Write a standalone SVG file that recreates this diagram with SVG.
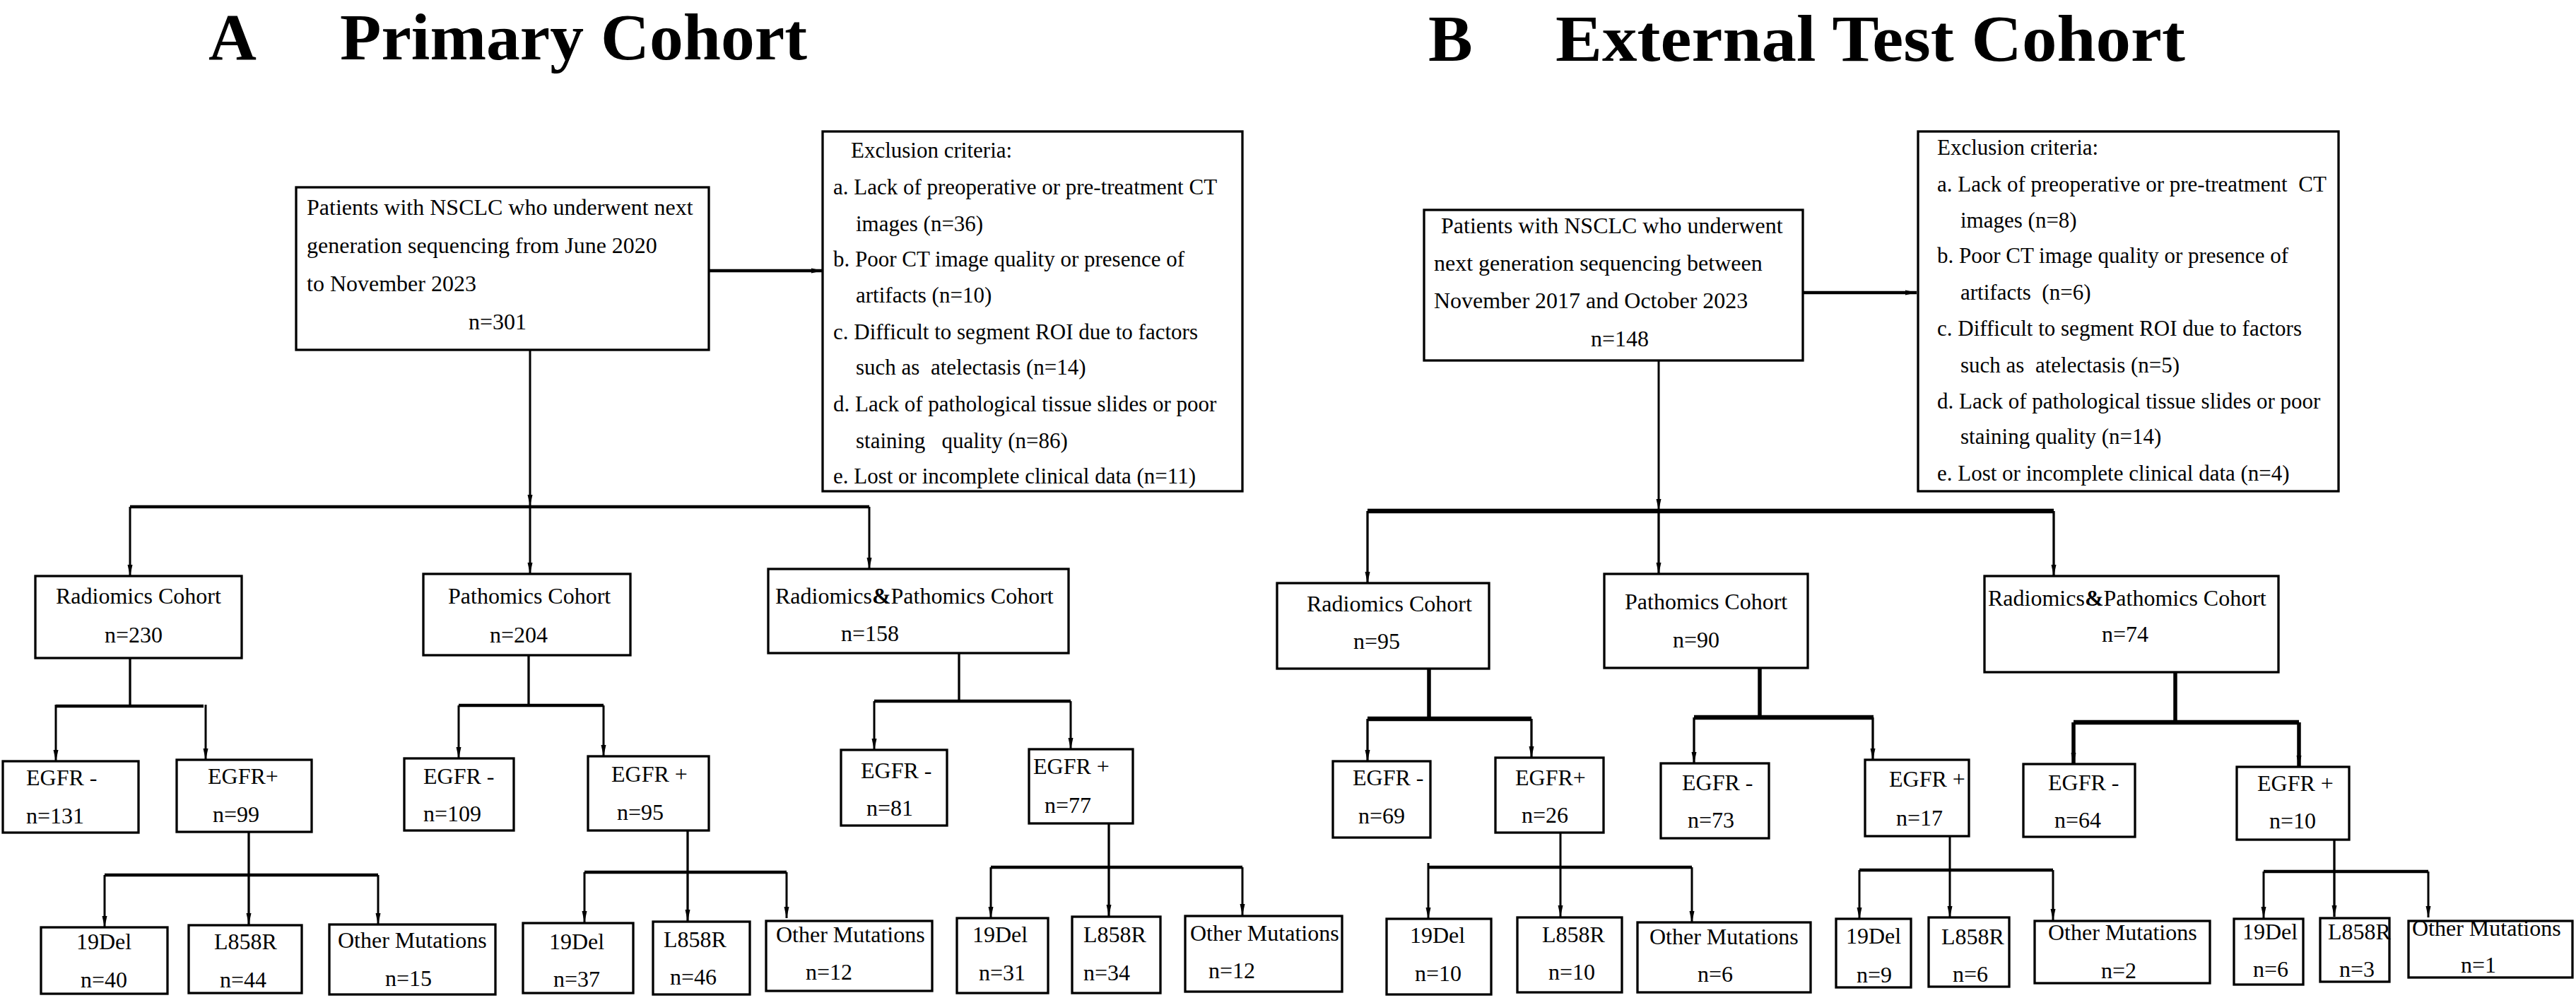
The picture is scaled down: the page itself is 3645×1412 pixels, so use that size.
<svg xmlns="http://www.w3.org/2000/svg" width="3645" height="1412" viewBox="0 0 3645 1412">
<style>
.bg{fill:#fff}
.box{fill:#fff;stroke:#000;stroke-width:3.3}
text{font-family:"Liberation Serif","Times New Roman",serif;fill:#000}
.t{font-size:32px}
.ex{font-size:31px}
.title{font-size:94px;font-weight:bold}
.ln{stroke:#000;stroke-width:3;fill:none}
.bar{stroke:#000;stroke-width:4.5;fill:none}
.barB{stroke:#000;stroke-width:6.5;fill:none}
.stem{stroke:#000;stroke-width:3.3;fill:none}
.stemB{stroke:#000;stroke-width:5.5;fill:none}
.ha{stroke:#000;stroke-width:4.5;fill:none}
.amp{font-weight:bold}
</style>
<defs>
<marker id="ah" markerUnits="userSpaceOnUse" markerWidth="18" markerHeight="10" refX="16" refY="5" orient="auto">
<path d="M0,1.5 L16,5 L0,8.5 z" fill="#000"/>
</marker>
</defs>
<rect class="bg" x="0" y="0" width="3645" height="1412"/>

<g id="titles">
<text class="title" y="84"><tspan x="295">A</tspan></text>
<text class="title" y="84" x="481" textLength="661" lengthAdjust="spacingAndGlyphs">Primary Cohort</text>
<text class="title" y="86"><tspan x="2021">B</tspan></text>
<text class="title" y="86" x="2201" textLength="891" lengthAdjust="spacingAndGlyphs">External Test Cohort</text>
</g>

<g id="connectors">
<!-- A -->
<line class="ha" x1="1003" y1="383" x2="1164" y2="383" marker-end="url(#ah)"/>
<line class="ln" x1="750" y1="495" x2="750" y2="716" marker-end="url(#ah)"/>
<line class="bar" x1="184" y1="717" x2="1230" y2="717"/>
<line class="ln" x1="184" y1="717" x2="184" y2="815" marker-end="url(#ah)"/>
<line class="ln" x1="750" y1="717" x2="750" y2="812" marker-end="url(#ah)"/>
<line class="ln" x1="1230" y1="717" x2="1230" y2="805" marker-end="url(#ah)"/>

<line class="stem" x1="184" y1="931" x2="184" y2="999"/>
<line class="bar" x1="79" y1="999" x2="288" y2="999"/>
<line class="ln" x1="79" y1="997" x2="79" y2="1077" marker-end="url(#ah)"/>
<line class="ln" x1="291" y1="997" x2="291" y2="1075" marker-end="url(#ah)"/>
<line class="stem" x1="352" y1="1177" x2="352" y2="1308" marker-end="url(#ah)"/>
<line class="bar" x1="148" y1="1238" x2="535" y2="1238"/>
<line class="ln" x1="148" y1="1238" x2="148" y2="1312" marker-end="url(#ah)"/>
<line class="ln" x1="535" y1="1238" x2="535" y2="1308" marker-end="url(#ah)"/>

<line class="stem" x1="748" y1="927" x2="748" y2="998"/>
<line class="bar" x1="649" y1="998" x2="854" y2="998"/>
<line class="ln" x1="649" y1="998" x2="649" y2="1073" marker-end="url(#ah)"/>
<line class="ln" x1="854" y1="998" x2="854" y2="1070" marker-end="url(#ah)"/>
<line class="stem" x1="973" y1="1175" x2="973" y2="1303" marker-end="url(#ah)"/>
<line class="bar" x1="827" y1="1234" x2="1113" y2="1234"/>
<line class="ln" x1="827" y1="1234" x2="827" y2="1305" marker-end="url(#ah)"/>
<line class="ln" x1="1113" y1="1234" x2="1113" y2="1299" marker-end="url(#ah)"/>

<line class="stem" x1="1357" y1="924" x2="1357" y2="992"/>
<line class="bar" x1="1237" y1="992" x2="1515" y2="992"/>
<line class="ln" x1="1237" y1="992" x2="1237" y2="1061" marker-end="url(#ah)"/>
<line class="ln" x1="1515" y1="992" x2="1515" y2="1060" marker-end="url(#ah)"/>
<line class="stem" x1="1569" y1="1165" x2="1569" y2="1296" marker-end="url(#ah)"/>
<line class="bar" x1="1402" y1="1227" x2="1758" y2="1227"/>
<line class="ln" x1="1402" y1="1227" x2="1402" y2="1299" marker-end="url(#ah)"/>
<line class="ln" x1="1758" y1="1227" x2="1758" y2="1295" marker-end="url(#ah)"/>

<!-- B -->
<line class="ha" x1="2551" y1="414" x2="2712" y2="414" marker-end="url(#ah)"/>
<line class="ln" x1="2347" y1="510" x2="2347" y2="722" marker-end="url(#ah)"/>
<line class="barB" x1="1935" y1="723" x2="2906" y2="723"/>
<line class="stem" x1="1935" y1="723" x2="1935" y2="825" marker-end="url(#ah)"/>
<line class="stem" x1="2347" y1="723" x2="2347" y2="812" marker-end="url(#ah)"/>
<line class="stem" x1="2906" y1="723" x2="2906" y2="815" marker-end="url(#ah)"/>

<line class="stemB" x1="2022" y1="946" x2="2022" y2="1017"/>
<line class="barB" x1="1935" y1="1017" x2="2167" y2="1017"/>
<line class="stem" x1="1935" y1="1017" x2="1935" y2="1077" marker-end="url(#ah)"/>
<line class="stem" x1="2167" y1="1017" x2="2167" y2="1072" marker-end="url(#ah)"/>
<line class="ln" x1="2208" y1="1178" x2="2208" y2="1297" marker-end="url(#ah)"/>
<line class="bar" x1="2021" y1="1227" x2="2394" y2="1227"/>
<line class="ln" x1="2021" y1="1221" x2="2021" y2="1300" marker-end="url(#ah)"/>
<line class="ln" x1="2394" y1="1227" x2="2394" y2="1305" marker-end="url(#ah)"/>

<line class="stemB" x1="2490" y1="945" x2="2490" y2="1017"/>
<line class="barB" x1="2397" y1="1015" x2="2651" y2="1015"/>
<line class="stem" x1="2397" y1="1015" x2="2397" y2="1080" marker-end="url(#ah)"/>
<line class="stem" x1="2650" y1="1015" x2="2650" y2="1075" marker-end="url(#ah)"/>
<line class="ln" x1="2759" y1="1183" x2="2759" y2="1298" marker-end="url(#ah)"/>
<line class="bar" x1="2631" y1="1231" x2="2905" y2="1231"/>
<line class="ln" x1="2631" y1="1231" x2="2631" y2="1300" marker-end="url(#ah)"/>
<line class="ln" x1="2905" y1="1231" x2="2905" y2="1302" marker-end="url(#ah)"/>

<line class="stemB" x1="3078" y1="951" x2="3078" y2="1022"/>
<line class="barB" x1="2934" y1="1022" x2="3253" y2="1022"/>
<line class="stemB" x1="2934" y1="1022" x2="2934" y2="1081" marker-end="url(#ah)"/>
<line class="stemB" x1="3253" y1="1022" x2="3253" y2="1085" marker-end="url(#ah)"/>
<line class="stem" x1="3303" y1="1188" x2="3303" y2="1297" marker-end="url(#ah)"/>
<line class="bar" x1="3203" y1="1233" x2="3436" y2="1233"/>
<line class="ln" x1="3203" y1="1233" x2="3203" y2="1299" marker-end="url(#ah)"/>
<line class="ln" x1="3436" y1="1233" x2="3436" y2="1298" marker-end="url(#ah)"/>
</g>

<!-- Panel A nodes -->
<g id="A-main">
<rect class="box" x="419" y="265" width="584" height="230"/>
<text class="t" x="434" y="304">Patients with NSCLC who underwent next</text>
<text class="t" x="434" y="358">generation sequencing from June 2020</text>
<text class="t" x="434" y="412">to November 2023</text>
<text class="t" x="663" y="466">n=301</text>
</g>
<g id="A-exclusion">
<rect class="box" x="1164" y="186" width="594" height="509"/>
<text class="ex" x="1204" y="223">Exclusion criteria:</text>
<text class="ex" x="1179" y="275">a. Lack of preoperative or pre-treatment CT</text>
<text class="ex" x="1211" y="327">images (n=36)</text>
<text class="ex" x="1179" y="377">b. Poor CT image quality or presence of</text>
<text class="ex" x="1211" y="428">artifacts (n=10)</text>
<text class="ex" x="1179" y="480">c. Difficult to segment ROI due to factors</text>
<text class="ex" x="1211" y="530" xml:space="preserve" style="white-space:pre">such as  atelectasis (n=14)</text>
<text class="ex" x="1179" y="582">d. Lack of pathological tissue slides or poor</text>
<text class="ex" x="1211" y="634" xml:space="preserve" style="white-space:pre">staining   quality (n=86)</text>
<text class="ex" x="1179" y="684">e. Lost or incomplete clinical data (n=11)</text>
</g>
<g id="A-radiomics">
<rect class="box" x="50" y="815" width="292" height="116"/>
<text class="t" x="79" y="854">Radiomics Cohort</text>
<text class="t" x="148" y="909">n=230</text>
</g>
<g id="A-pathomics">
<rect class="box" x="599" y="812" width="293" height="115"/>
<text class="t" x="634" y="854">Pathomics Cohort</text>
<text class="t" x="693" y="909">n=204</text>
</g>
<g id="A-radpath">
<rect class="box" x="1087" y="805" width="425" height="119"/>
<text class="t" x="1097" y="854">Radiomics<tspan class="amp">&amp;</tspan>Pathomics Cohort</text>
<text class="t" x="1190" y="907">n=158</text>
</g>
<g id="A-r-neg">
<rect class="box" x="4" y="1077" width="192" height="101"/>
<text class="t" x="37" y="1111">EGFR -</text>
<text class="t" x="37" y="1165">n=131</text>
</g>
<g id="A-r-pos">
<rect class="box" x="250" y="1075" width="191" height="102"/>
<text class="t" x="294" y="1109">EGFR+</text>
<text class="t" x="301" y="1163">n=99</text>
</g>
<g id="A-r-19del">
<rect class="box" x="58" y="1312" width="179" height="94"/>
<text class="t" x="108" y="1343">19Del</text>
<text class="t" x="114" y="1397">n=40</text>
</g>
<g id="A-r-l858r">
<rect class="box" x="267" y="1309" width="160" height="96"/>
<text class="t" x="303" y="1343">L858R</text>
<text class="t" x="311" y="1397">n=44</text>
</g>
<g id="A-r-other">
<rect class="box" x="466" y="1308" width="235" height="99"/>
<text class="t" x="478" y="1341">Other Mutations</text>
<text class="t" x="545" y="1395">n=15</text>
</g>
<g id="A-p-neg">
<rect class="box" x="572" y="1073" width="155" height="102"/>
<text class="t" x="599" y="1109">EGFR -</text>
<text class="t" x="599" y="1162">n=109</text>
</g>
<g id="A-p-pos">
<rect class="box" x="832" y="1070" width="171" height="105"/>
<text class="t" x="865" y="1106">EGFR +</text>
<text class="t" x="873" y="1160">n=95</text>
</g>
<g id="A-p-19del">
<rect class="box" x="740" y="1306" width="156" height="99"/>
<text class="t" x="777" y="1343">19Del</text>
<text class="t" x="783" y="1396">n=37</text>
</g>
<g id="A-p-l858r">
<rect class="box" x="924" y="1304" width="137" height="103"/>
<text class="t" x="939" y="1340">L858R</text>
<text class="t" x="948" y="1393">n=46</text>
</g>
<g id="A-p-other">
<rect class="box" x="1084" y="1303" width="235" height="99"/>
<text class="t" x="1098" y="1333">Other Mutations</text>
<text class="t" x="1140" y="1386">n=12</text>
</g>
<g id="A-rp-neg">
<rect class="box" x="1190" y="1061" width="150" height="107"/>
<text class="t" x="1218" y="1101">EGFR -</text>
<text class="t" x="1226" y="1154">n=81</text>
</g>
<g id="A-rp-pos">
<rect class="box" x="1456" y="1060" width="147" height="105"/>
<text class="t" x="1462" y="1095">EGFR +</text>
<text class="t" x="1478" y="1150">n=77</text>
</g>
<g id="A-rp-19del">
<rect class="box" x="1354" y="1299" width="129" height="106"/>
<text class="t" x="1376" y="1333">19Del</text>
<text class="t" x="1385" y="1387">n=31</text>
</g>
<g id="A-rp-l858r">
<rect class="box" x="1517" y="1297" width="125" height="108"/>
<text class="t" x="1533" y="1333">L858R</text>
<text class="t" x="1533" y="1387">n=34</text>
</g>
<g id="A-rp-other">
<rect class="box" x="1677" y="1296" width="222" height="107"/>
<text class="t" x="1684" y="1331">Other Mutations</text>
<text class="t" x="1710" y="1384">n=12</text>
</g>

<!-- Panel B nodes -->
<g id="B-main">
<rect class="box" x="2015" y="297" width="536" height="213"/>
<text class="t" x="2039" y="330">Patients with NSCLC who underwent</text>
<text class="t" x="2029" y="383">next generation sequencing between</text>
<text class="t" x="2029" y="436">November 2017 and October 2023</text>
<text class="t" x="2251" y="490">n=148</text>
</g>
<g id="B-exclusion">
<rect class="box" x="2714" y="186" width="595" height="509"/>
<text class="ex" x="2741" y="219">Exclusion criteria:</text>
<text class="ex" x="2741" y="271" xml:space="preserve" style="white-space:pre">a. Lack of preoperative or pre-treatment  CT</text>
<text class="ex" x="2774" y="322">images (n=8)</text>
<text class="ex" x="2741" y="372">b. Poor CT image quality or presence of</text>
<text class="ex" x="2774" y="424" xml:space="preserve" style="white-space:pre">artifacts  (n=6)</text>
<text class="ex" x="2741" y="475">c. Difficult to segment ROI due to factors</text>
<text class="ex" x="2774" y="527" xml:space="preserve" style="white-space:pre">such as  atelectasis (n=5)</text>
<text class="ex" x="2741" y="578">d. Lack of pathological tissue slides or poor</text>
<text class="ex" x="2774" y="628">staining quality (n=14)</text>
<text class="ex" x="2741" y="680">e. Lost or incomplete clinical data (n=4)</text>
</g>
<g id="B-radiomics">
<rect class="box" x="1807" y="825" width="300" height="121"/>
<text class="t" x="1849" y="865">Radiomics Cohort</text>
<text class="t" x="1915" y="918">n=95</text>
</g>
<g id="B-pathomics">
<rect class="box" x="2270" y="812" width="288" height="133"/>
<text class="t" x="2299" y="862">Pathomics Cohort</text>
<text class="t" x="2367" y="916">n=90</text>
</g>
<g id="B-radpath">
<rect class="box" x="2808" y="815" width="416" height="136"/>
<text class="t" x="2813" y="857">Radiomics<tspan class="amp">&amp;</tspan>Pathomics Cohort</text>
<text class="t" x="2974" y="908">n=74</text>
</g>
<g id="B-r-neg">
<rect class="box" x="1886" y="1077" width="138" height="108"/>
<text class="t" x="1914" y="1111">EGFR -</text>
<text class="t" x="1922" y="1165">n=69</text>
</g>
<g id="B-r-pos">
<rect class="box" x="2116" y="1072" width="153" height="106"/>
<text class="t" x="2144" y="1111">EGFR+</text>
<text class="t" x="2153" y="1164">n=26</text>
</g>
<g id="B-r-19del">
<rect class="box" x="1962" y="1300" width="148" height="107"/>
<text class="t" x="1995" y="1334">19Del</text>
<text class="t" x="2002" y="1388">n=10</text>
</g>
<g id="B-r-l858r">
<rect class="box" x="2147" y="1298" width="148" height="106"/>
<text class="t" x="2182" y="1333">L858R</text>
<text class="t" x="2191" y="1386">n=10</text>
</g>
<g id="B-r-other">
<rect class="box" x="2317" y="1305" width="245" height="99"/>
<text class="t" x="2334" y="1336">Other Mutations</text>
<text class="t" x="2402" y="1389">n=6</text>
</g>
<g id="B-p-neg">
<rect class="box" x="2350" y="1080" width="153" height="106"/>
<text class="t" x="2380" y="1118">EGFR -</text>
<text class="t" x="2388" y="1171">n=73</text>
</g>
<g id="B-p-pos">
<rect class="box" x="2639" y="1075" width="147" height="108"/>
<text class="t" x="2673" y="1113">EGFR +</text>
<text class="t" x="2683" y="1168">n=17</text>
</g>
<g id="B-p-19del">
<rect class="box" x="2598" y="1300" width="106" height="97"/>
<text class="t" x="2612" y="1335">19Del</text>
<text class="t" x="2627" y="1390">n=9</text>
</g>
<g id="B-p-l858r">
<rect class="box" x="2729" y="1298" width="114" height="98"/>
<text class="t" x="2747" y="1336">L858R</text>
<text class="t" x="2763" y="1389">n=6</text>
</g>
<g id="B-p-other">
<rect class="box" x="2879" y="1303" width="248" height="88"/>
<text class="t" x="2898" y="1330">Other Mutations</text>
<text class="t" x="2973" y="1384">n=2</text>
</g>
<g id="B-rp-neg">
<rect class="box" x="2863" y="1081" width="158" height="103"/>
<text class="t" x="2898" y="1118">EGFR -</text>
<text class="t" x="2907" y="1171">n=64</text>
</g>
<g id="B-rp-pos">
<rect class="box" x="3165" y="1085" width="159" height="103"/>
<text class="t" x="3194" y="1119">EGFR +</text>
<text class="t" x="3211" y="1172">n=10</text>
</g>
<g id="B-rp-19del">
<rect class="box" x="3161" y="1300" width="98" height="93"/>
<text class="t" x="3173" y="1329">19Del</text>
<text class="t" x="3188" y="1382">n=6</text>
</g>
<g id="B-rp-l858r">
<rect class="box" x="3283" y="1299" width="98" height="90"/>
<text class="t" x="3294" y="1329">L858R</text>
<text class="t" x="3310" y="1382">n=3</text>
</g>
<g id="B-rp-other">
<rect class="box" x="3408" y="1303" width="232" height="80"/>
<text class="t" x="3413" y="1324">Other Mutations</text>
<text class="t" x="3482" y="1376">n=1</text>
</g>
</svg>
